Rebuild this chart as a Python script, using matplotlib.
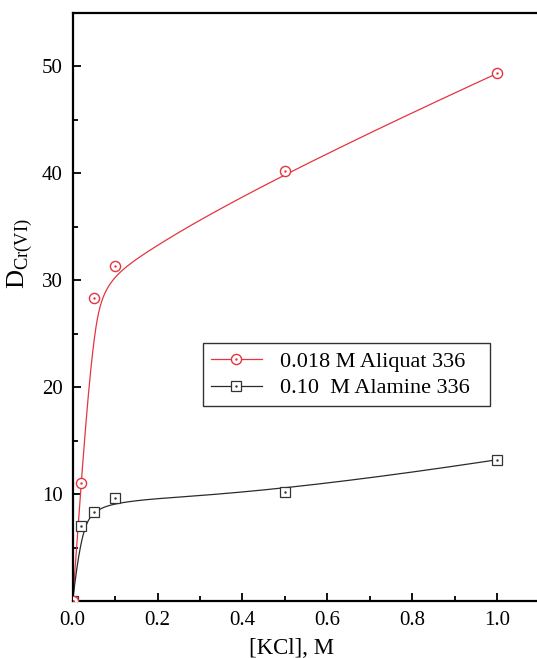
import numpy as np
import matplotlib
matplotlib.use("Agg")
import matplotlib.pyplot as plt
from matplotlib.ticker import MultipleLocator

plt.rcParams['font.family'] = 'Liberation Serif'
plt.rcParams['mathtext.fontset'] = 'custom'
plt.rcParams['mathtext.rm'] = 'Liberation Serif'

kcl = [0.0, 0.02, 0.05, 0.1, 0.5, 1.0]
d_aliquat = [0.0, 11.0, 28.3, 31.3, 40.2, 49.3]
d_alamine = [0.0, 7.0, 8.3, 9.6, 10.2, 13.2]
labels = ['0.018 M Aliquat 336', '0.10  M Alamine 336']

red = '#e4353f'
dark = '#2a2a2a'


def bspline(px, py, n=400, k=3):
    # clamped B-spline with the data points as control points
    px = np.asarray(px, float)
    py = np.asarray(py, float)
    m = len(px)
    knots = np.concatenate([np.zeros(k), np.linspace(0, 1, m - k + 1), np.ones(k)])
    t = np.linspace(0, 1, n)
    t[-1] -= 1e-9

    def basis(i, p, tt):
        if p == 0:
            return ((knots[i] <= tt) & (tt < knots[i + 1])).astype(float)
        out = np.zeros_like(tt)
        d1 = knots[i + p] - knots[i]
        d2 = knots[i + p + 1] - knots[i + 1]
        if d1 > 0:
            out += (tt - knots[i]) / d1 * basis(i, p - 1, tt)
        if d2 > 0:
            out += (knots[i + p + 1] - tt) / d2 * basis(i + 1, p - 1, tt)
        return out

    B = np.array([basis(i, k, t) for i in range(m)])
    return B.T @ px, B.T @ py


fig = plt.figure(figsize=(5.37, 6.58), dpi=100)
ax = fig.add_axes([0.1354, 0.0866, 0.869, 0.8944])

sx, sy = bspline(kcl, d_aliquat)
ax.plot(sx, sy, color=red, lw=0.9)
sx, sy = bspline(kcl, d_alamine)
ax.plot(sx, sy, color=dark, lw=0.9)

ax.plot(kcl, d_alamine, ls='none', marker='s', ms=6.5, mfc='white', mec='#333333', mew=0.9, zorder=3)
ax.plot(kcl, d_alamine, ls='none', marker='.', ms=1.5, color='#333333', zorder=4)
ax.plot(kcl, d_aliquat, ls='none', marker='o', ms=7.3, mfc='white', mec=red, mew=1.0, zorder=3)
ax.plot(kcl, d_aliquat, ls='none', marker='.', ms=1.5, color=red, zorder=4)

# legend handles: line + open marker + centre dot
h1, = ax.plot([], [], color=red, lw=0.9, marker='o', ms=7.3, mfc='white', mec=red, mew=1.0)
h2, = ax.plot([], [], color=dark, lw=0.9, marker='s', ms=6.5, mfc='white', mec='#333333', mew=0.9)
c1, = ax.plot([], [], ls='none', marker='.', ms=1.5, color=red)
c2, = ax.plot([], [], ls='none', marker='.', ms=1.5, color='#333333')
leg = ax.legend([(h1, c1), (h2, c2)], labels, loc='upper left', mode='expand',
                bbox_to_anchor=(0.279, 0.33, 0.615, 0.108), fontsize=16,
                frameon=True, fancybox=False, edgecolor='black', handlelength=2.3,
                handletextpad=0.8, borderpad=0.35, labelspacing=0.28, borderaxespad=0)
leg.get_frame().set_linewidth(1.0)

ax.set_xlim(0, 1.1)
ax.set_ylim(0, 55)
ax.xaxis.set_major_locator(MultipleLocator(0.2))
ax.xaxis.set_minor_locator(MultipleLocator(0.1))
ax.yaxis.set_major_locator(MultipleLocator(10))
ax.yaxis.set_minor_locator(MultipleLocator(5))
ax.set_yticks([10, 20, 30, 40, 50])
ax.tick_params(which='both', direction='in', labelsize=15, width=1.3)
ax.tick_params(which='major', length=6)
ax.tick_params(which='minor', length=3.6)
ax.tick_params(axis='y', pad=7)
ax.tick_params(axis='x', pad=7)
for s in ax.spines.values():
    s.set_linewidth(1.6)

ax.set_xlabel('[KCl], M', fontsize=16.5)
ax.xaxis.set_label_coords(0.468, -0.062)
fig.text(20 / 537, 1 - 254 / 658, r'D$_{\mathrm{Cr(VI)}}$', fontsize=19,
         rotation=90, ha='center', va='center')

fig.savefig('out.png', dpi=100)
